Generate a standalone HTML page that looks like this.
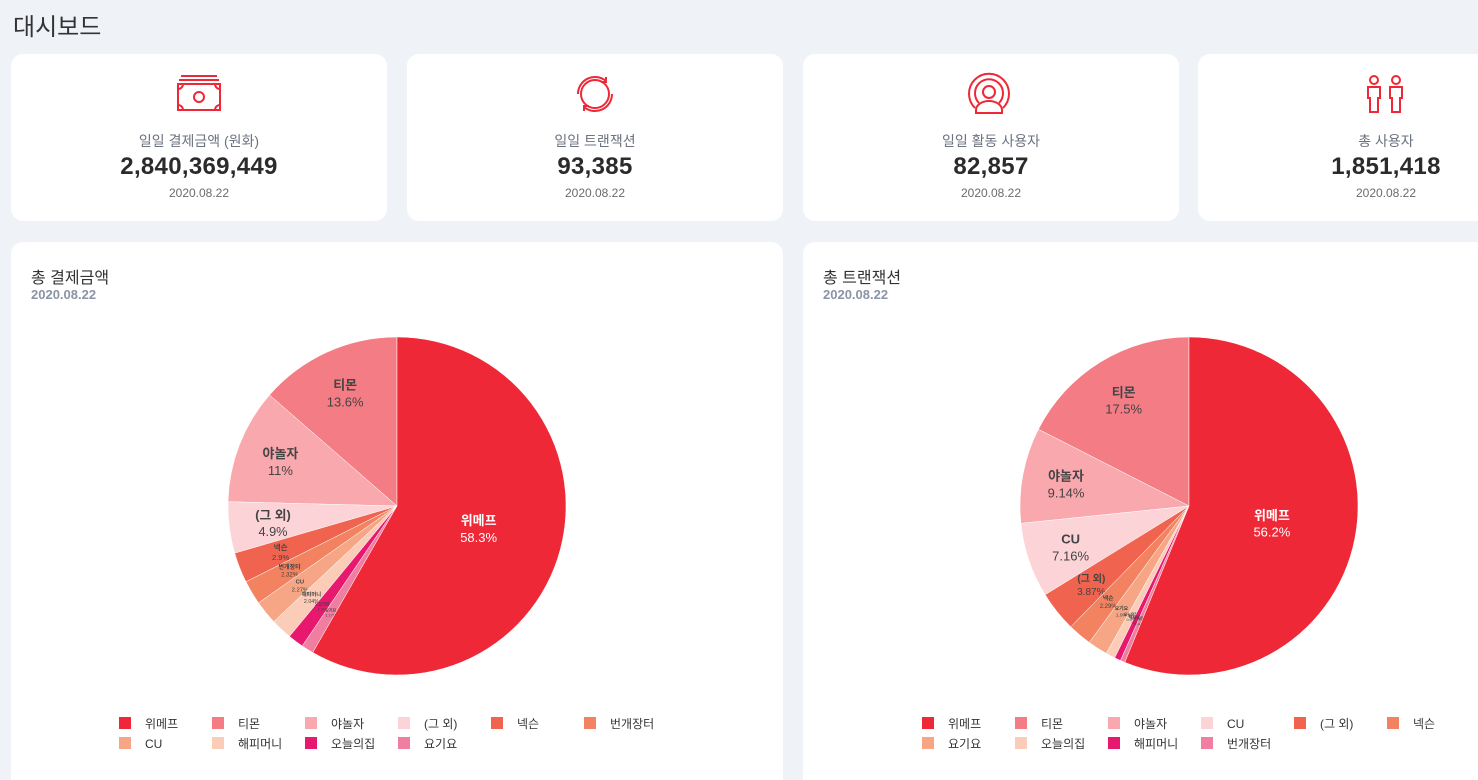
<!DOCTYPE html>
<html><head><meta charset="utf-8">
<style>
html,body{margin:0;width:1478px;height:780px;overflow:hidden}
body{background:#eff2f6;font-family:"Liberation Sans","Noto Sans CJK KR",sans-serif;position:relative}
#wrap{position:absolute;left:0;top:0;width:1478px;height:780px;overflow:hidden}
.title{position:absolute;left:13px;top:7px;font-size:24px;color:#333}
.card{position:absolute;background:#fff;border-radius:12px}
.kpi{top:54px;height:167px;width:376px;text-align:center}
.kpi svg{position:absolute;left:166px;top:18px}
.kl{position:absolute;top:77px;width:100%;font-size:14px;color:#6b7280}
.kv{position:absolute;top:99px;width:100%;font-size:24px;font-weight:bold;color:#2b2b2b;letter-spacing:0.3px}
.kd{position:absolute;top:132px;width:100%;font-size:12px;color:#6b6b6b}
.chart{top:242px;height:560px;width:772px}
.ct{position:absolute;left:20px;top:22px;font-size:16px;color:#333}
.cd{position:absolute;left:20px;top:45px;font-size:13px;font-weight:bold;color:#8a94a6}
</style></head><body><div id="wrap">
<div class="title">대시보드</div>

<div class="card kpi" style="left:11px">
<svg width="44" height="40" viewBox="0 0 44 40"><g fill="none" stroke="#ef2837" stroke-width="2"><line x1="4" y1="4" x2="40" y2="4"/><line x1="2" y1="8" x2="42" y2="8"/><rect x="1" y="12" width="42" height="26"/><circle cx="22" cy="25" r="5"/><path d="M1 17a5 5 0 0 0 5-5M38 12a5 5 0 0 0 5 5M1 33a5 5 0 0 1 5 5M38 38a5 5 0 0 1 5-5"/></g></svg>
<div class="kl">일일 결제금액 (원화)</div><div class="kv">2,840,369,449</div><div class="kd">2020.08.22</div></div>

<div class="card kpi" style="left:407px">
<svg width="44" height="44" viewBox="0 0 44 44" style="left:166px;top:18px"><g fill="none" stroke="#ef2837" stroke-width="2"><circle cx="22" cy="22" r="14"/><path d="M5 22A17 17 0 0 1 33 9"/><path d="M39 22A17 17 0 0 1 11 35"/><path d="M33 5l0 5-5 0M11 39l0-5 5 0"/></g></svg>
<div class="kl">일일 트랜잭션</div><div class="kv">93,385</div><div class="kd">2020.08.22</div></div>

<div class="card kpi" style="left:803px">
<svg width="44" height="44" viewBox="0 0 44 44" style="left:164px;top:18px"><g fill="none" stroke="#ef2837" stroke-width="2"><path d="M8 36A20 20 0 1 1 36 36"/><path d="M12 31A14 14 0 1 1 32 31"/><circle cx="22" cy="20" r="6"/><path d="M9 41v-3a13 9 0 0 1 26 0v3z"/></g></svg>
<div class="kl">일일 활동 사용자</div><div class="kv">82,857</div><div class="kd">2020.08.22</div></div>

<div class="card kpi" style="left:1198px">
<svg width="44" height="44" viewBox="0 0 44 44" style="left:166px;top:18px"><g fill="none" stroke="#ef2837" stroke-width="2"><circle cx="10" cy="8" r="4"/><path d="M4 26V15h12v11h-2v14h-8V26z"/><circle cx="32" cy="8" r="4"/><path d="M26 26V15h12v11h-2v14h-8V26z"/></g></svg>
<div class="kl">총 사용자</div><div class="kv">1,851,418</div><div class="kd">2020.08.22</div></div>

<div class="card chart" style="left:11px">
<div class="ct">총 결제금액</div><div class="cd">2020.08.22</div>
<svg id="p1" width="772" height="540" style="position:absolute;left:0;top:0"></svg></div>

<div class="card chart" style="left:803px">
<div class="ct">총 트랜잭션</div><div class="cd">2020.08.22</div>
<svg id="p2" width="772" height="540" style="position:absolute;left:0;top:0"></svg></div>
</div>
<script>
const colors=["#ef2837","#f47c84","#f9a8ae","#fcd3d6","#f0634f","#f38261","#f6a684","#fbcdb9","#e8186f","#f07ea0"];
const payCats=["위메프","티몬","야놀자","(그 외)","넥슨","번개장터","CU","해피머니","오늘의집","요기요"];
const payVals=[58.3,13.6,11,4.9,2.9,2.32,2.27,2.04,1.5,1.17];
const payLabels=["58.3%","13.6%","11%","4.9%","2.9%","2.32%","2.27%","2.04%","1.5%","1.17%"];
const txCats=["위메프","티몬","야놀자","CU","(그 외)","넥슨","요기요","오늘의집","해피머니","번개장터"];
const txVals=[56.2,17.5,9.14,7.16,3.87,2.29,1.9,0.9,0.6,0.44];
const txLabels=["56.2%","17.5%","9.14%","7.16%","3.87%","2.29%","1.9%","0.9%","0.6%","0.44%"];
const NS="http://www.w3.org/2000/svg";
function mk(t,a){const e=document.createElementNS(NS,t);for(const k in a)e.setAttribute(k,a[k]);return e;}
function pie(id,cats,vals,labels,legX){
  const svg=document.getElementById(id);
  const cx=386,cy=264,r=169;
  const total=vals.reduce((a,b)=>a+b,0);
  const order=[];for(let i=1;i<vals.length;i++)order.push(i);order.push(0);
  let a=0;
  const pt=(ang,rr)=>[cx-rr*Math.sin(ang),cy-rr*Math.cos(ang)];
  order.forEach(i=>{
    const sweep=vals[i]/total*2*Math.PI;
    const p1=pt(a,r),p2=pt(a+sweep,r);
    const path=mk("path",{d:`M${cx},${cy}L${p1[0]},${p1[1]}A${r},${r} 0 ${sweep>Math.PI?1:0} 0 ${p2[0]},${p2[1]}Z`,fill:colors[i],stroke:"#fff","stroke-width":0.5});
    
    
    svg.appendChild(path);
    const mid=a+sweep/2;const lp=pt(mid,i===0?r*0.5:r*0.74);
    const fs=i===0?13:Math.max(4,Math.min(13,vals[i]*2.6));
    const col=i===0?"#fff":"#444";
    const g=mk("g",{});
    
    
    const t1=mk("text",{x:lp[0],y:lp[1]-fs*0.2,"text-anchor":"middle","font-size":fs,"font-weight":"bold",fill:col});t1.textContent=cats[i];
    const t2=mk("text",{x:lp[0],y:lp[1]+fs*1.1,"text-anchor":"middle","font-size":fs,fill:col});t2.textContent=labels[i];
    g.appendChild(t1);g.appendChild(t2);svg.appendChild(g);
    a+=sweep;
  });
  cats.forEach((c,i)=>{
    const x=legX+(i%6)*93,y=475+Math.floor(i/6)*20;
    const g=mk("g",{});
    
    
    g.appendChild(mk("rect",{x:x,y:y,width:12,height:12,fill:colors[i]}));
    const t=mk("text",{x:x+26,y:y+11,"font-size":12,fill:"#333"});t.textContent=c;g.appendChild(t);
    svg.appendChild(g);
  });
}
pie("p1",payCats,payVals,payLabels,108);
pie("p2",txCats,txVals,txLabels,119);
</script>
</body></html>
